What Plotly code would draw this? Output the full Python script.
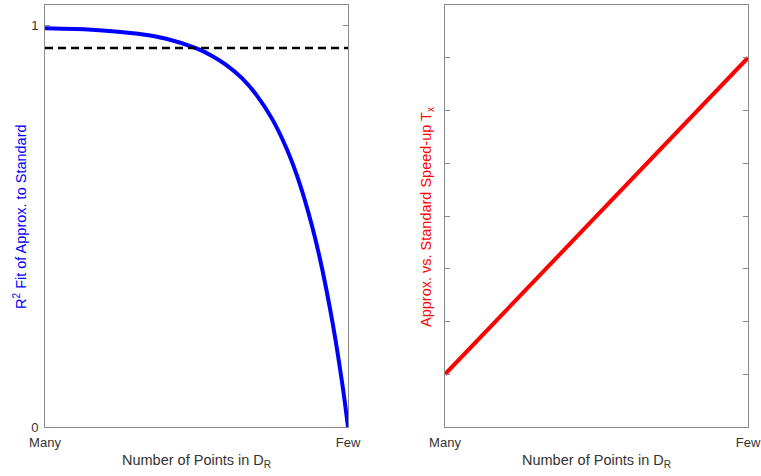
import plotly.graph_objects as go

# Left panel: R^2 fit vs number of points (Many -> Few)
r2_x = [0.0, 0.1, 0.2, 0.3, 0.4, 0.5, 0.55, 0.6, 0.65, 0.7, 0.75, 0.8, 0.84, 0.88, 0.91, 0.94, 0.96, 0.98, 0.99, 1.0]
r2_y = [0.992, 0.990, 0.986, 0.979, 0.966, 0.942, 0.924, 0.900, 0.868, 0.824, 0.766, 0.688, 0.607, 0.504, 0.410, 0.297, 0.211, 0.113, 0.059, 0.0]
threshold = 0.943

# Right panel: speed-up vs number of points
sp_x = [0.0, 1.0]
sp_y = [1.0, 7.0]

x_ticks = [0, 1]
x_ticklabels = ["Many", "Few"]
left_yticks = [0, 1]
right_yticks = [1, 2, 3, 4, 5, 6, 7]

x_title = "Number of Points in D<sub>R</sub>"
left_title = "R<sup>2</sup> Fit of Approx. to Standard"
right_title = "Approx. vs. Standard Speed-up T<sub>x</sub>"

W, H = 761, 476
ydom = [1 - 427 / H, 1 - 5 / H]
xdomL = [45 / W, 348 / W]
xdomR = [445 / W, 748 / W]

axis_col = "#8a8a8a"
txt_col = "#333333"
font_fam = "Liberation Sans, Arial, sans-serif"

fig = go.Figure()
fig.add_trace(go.Scatter(x=r2_x, y=r2_y, mode="lines", line=dict(color="#0000ff", width=4, shape="spline", smoothing=1.0),
                         xaxis="x", yaxis="y", showlegend=False))
fig.add_trace(go.Scatter(x=[0, 1], y=[threshold, threshold], mode="lines",
                         line=dict(color="black", width=2.5, dash="8px,5px"),
                         xaxis="x", yaxis="y", showlegend=False))
fig.add_trace(go.Scatter(x=sp_x, y=sp_y, mode="lines", line=dict(color="#ff0000", width=4),
                         xaxis="x2", yaxis="y2", showlegend=False))

common_x = dict(range=[0, 1], tickvals=x_ticks, ticktext=x_ticklabels, ticks="inside", ticklen=0,
                showline=True, linecolor=axis_col, linewidth=1, mirror=True, showgrid=False, zeroline=False,
                automargin=False, ticklabelstandoff=3, tickfont=dict(size=13, color=txt_col, family=font_fam))

fig.update_layout(
    width=W, height=H, margin=dict(l=0, r=0, t=0, b=0),
    paper_bgcolor="white", plot_bgcolor="white",
    font=dict(family=font_fam),
    xaxis=dict(domain=xdomL, anchor="y", **common_x),
    yaxis=dict(domain=ydom, anchor="x", range=[0, 1.05], tickvals=left_yticks, ticks="inside", ticklen=5,
               tickcolor=axis_col, showline=True, linecolor=axis_col, linewidth=1, mirror="ticks",
               showgrid=False, zeroline=False, automargin=False, ticklabelstandoff=3,
               tickfont=dict(size=13, color=txt_col, family=font_fam)),
    xaxis2=dict(domain=xdomR, anchor="y2", **common_x),
    yaxis2=dict(domain=ydom, anchor="x2", range=[0, 8], tickvals=right_yticks, ticktext=[""] * len(right_yticks),
                ticks="inside", ticklen=5, tickcolor=axis_col, showline=True, linecolor=axis_col, linewidth=1,
                mirror="ticks", showgrid=False, zeroline=False, automargin=False),
    annotations=[
        dict(text=x_title, x=(45 + 348) / 2 / W, y=1 - 461 / H, xref="paper", yref="paper", showarrow=False,
             xanchor="center", yanchor="middle", font=dict(size=14.5, color=txt_col, family=font_fam)),
        dict(text=x_title, x=(445 + 748) / 2 / W, y=1 - 461 / H, xref="paper", yref="paper", showarrow=False,
             xanchor="center", yanchor="middle", font=dict(size=14.5, color=txt_col, family=font_fam)),
        dict(text=left_title, x=20 / W, y=1 - 217 / H, xref="paper", yref="paper", showarrow=False, textangle=-90,
             xanchor="center", yanchor="middle", font=dict(size=14.5, color="#0000ff", family=font_fam)),
        dict(text=right_title, x=427 / W, y=1 - 217 / H, xref="paper", yref="paper", showarrow=False, textangle=-90,
             xanchor="center", yanchor="middle", font=dict(size=14.5, color="#ff0000", family=font_fam)),
    ],
)

fig.write_html("out.html", config={"displayModeBar": False},
               post_script="document.body.style.margin='0';document.body.style.overflow='hidden';")
